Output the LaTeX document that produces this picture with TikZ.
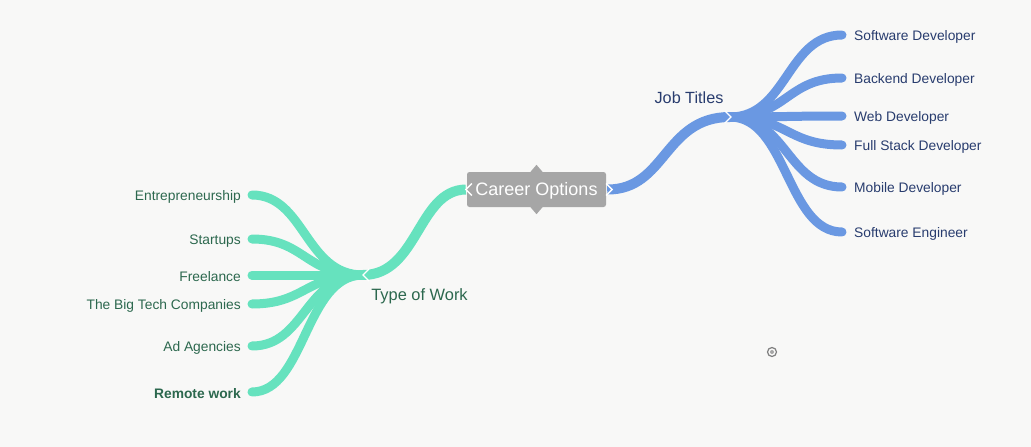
\documentclass[tikz,border=0pt]{standalone}
\usepackage{fontspec}
\setmainfont{Liberation Sans}
\definecolor{bgc}{RGB}{248,248,247}
\definecolor{grn}{RGB}{102,226,190}
\definecolor{grntxt}{RGB}{44,104,78}
\definecolor{blu}{RGB}{106,152,226}
\definecolor{blutxt}{RGB}{40,60,110}
\definecolor{boxc}{RGB}{166,166,166}
\begin{document}
\begin{tikzpicture}[x=1pt,y=-1pt,
  gbranch/.style={draw=grn,line width=9pt,line cap=round},
  bbranch/.style={draw=blu,line width=9pt,line cap=round},
  gleaf/.style={anchor=east,inner sep=0pt,text=grntxt,font=\fontsize{13.8}{15}\selectfont},
  bleaf/.style={anchor=west,inner sep=0pt,text=blutxt,font=\fontsize{13.8}{15}\selectfont},
  chev/.style={draw=white,line width=1.4pt,line join=miter}]
\useasboundingbox[fill=bgc] (0,0) rectangle (1031,447);

% central node
\node[fill=boxc,rounded corners=2.5pt,minimum width=139pt,minimum height=35pt,inner sep=0pt,
      text height=13pt,text depth=0.5pt,
      text=white,font=\fontsize{18}{20}\selectfont] (co) at (536.5,189.5) {Career Options};
\fill[boxc] ([xshift=-6pt]co.north) -- ([yshift=7pt]co.north) -- ([xshift=6pt]co.north) -- cycle;
\fill[boxc] ([xshift=-6pt]co.south) -- ([yshift=-7pt]co.south) -- ([xshift=6pt]co.south) -- cycle;

% hubs
\coordinate (hg) at (363,275);
\coordinate (hb) at (730,117);
\coordinate (gx) at (305,0);
\coordinate (bx) at (787,0);

% main connectors
\draw[draw=grn,line width=10pt] ([xshift=-1pt]co.west) .. controls (418,190) and (418,275) .. (hg);
\draw[draw=blu,line width=10pt] ([xshift=1pt]co.east) .. controls (666,190) and (664,117) .. (hb);

\node[text=grntxt,font=\fontsize{16.4}{18}\selectfont,inner sep=0pt] (tw) at (419.5,296.5) {Type of Work};
\node[text=blutxt,font=\fontsize{16.2}{18}\selectfont,inner sep=0pt] (jt) at (689,97.5) {Job Titles};

% green leaves
\coordinate (g1) at (252,195);
\coordinate (g2) at (252,239);
\coordinate (g3) at (252,275);
\coordinate (g4) at (252,304);
\coordinate (g5) at (252,346);
\coordinate (g6) at (252,392);
\foreach \i in {1,...,6}{
  \draw[gbranch] (hg) .. controls (305,275) and (gx |- g\i) .. (g\i);
}
\node[gleaf] (l1) at ([shift={(-11,2)}]g1) {Entrepreneurship};
\node[gleaf] (l2) at ([shift={(-11,2)}]g2) {Startups};
\node[gleaf] (l3) at ([shift={(-11,2)}]g3) {Freelance};
\node[gleaf] (l4) at ([shift={(-11,2)}]g4) {The Big Tech Companies};
\node[gleaf] (l5) at ([shift={(-11,2)}]g5) {Ad Agencies};
\node[gleaf,font=\fontsize{13.8}{15}\selectfont\bfseries] (l6) at ([shift={(-11,2)}]g6) {Remote work};

% blue leaves
\coordinate (b1) at (842,35);
\coordinate (b2) at (842,78);
\coordinate (b3) at (842,116);
\coordinate (b4) at (842,145);
\coordinate (b5) at (842,187);
\coordinate (b6) at (842,232);
\foreach \i in {1,...,6}{
  \draw[bbranch] (hb) .. controls (787,117) and (bx |- b\i) .. (b\i);
}
\node[bleaf] (r1) at ([shift={(12,2)}]b1) {Software Developer};
\node[bleaf] (r2) at ([shift={(12,2)}]b2) {Backend Developer};
\node[bleaf] (r3) at ([shift={(12,2)}]b3) {Web Developer};
\node[bleaf] (r4) at ([shift={(12,2)}]b4) {Full Stack Developer};
\node[bleaf] (r5) at ([shift={(12,2)}]b5) {Mobile Developer};
\node[bleaf] (r6) at ([shift={(12,2)}]b6) {Software Engineer};

% chevrons
\draw[chev] ([shift={(6,-6)}]hg) -- (hg) -- ([shift={(6,6)}]hg);
\draw[chev] ([shift={(5,-6)}]co.west) -- ([xshift=-1pt]co.west) -- ([shift={(5,6)}]co.west);
\draw[chev] ([shift={(0,-6)}]co.east) -- ([xshift=6pt]co.east) -- ([shift={(0,6)}]co.east);
\draw[chev] ([shift={(-5,-6)}]hb) -- ([xshift=1pt]hb) -- ([shift={(-5,6)}]hb);

% cursor
\coordinate (cur) at (772,352);
\draw[gray,line width=1.2pt] (cur) circle (4.5pt);
\fill[gray!70] (cur) circle (2pt);
\end{tikzpicture}
\end{document}
